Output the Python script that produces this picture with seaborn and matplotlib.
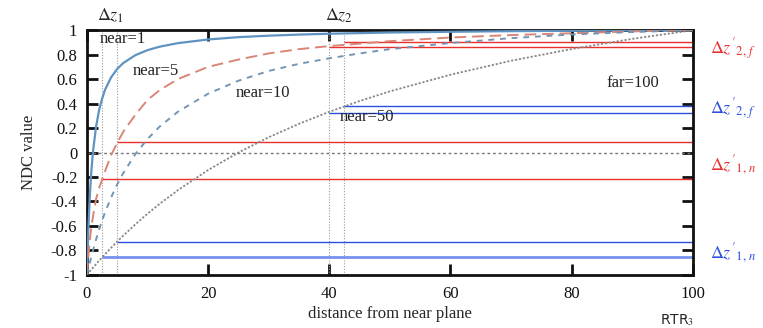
import matplotlib
matplotlib.use("Agg")
import matplotlib.pyplot as plt
import seaborn as sns
import pandas as pd

# ====== data ======
dist = [0, 0.25, 0.5, 0.75, 1, 1.5, 2, 2.5, 3, 4, 5, 6, 8, 10, 12, 15, 20, 25, 30,
        35, 40, 45, 50, 60, 70, 80, 90, 100]
near1 = [-1.0, -0.596, -0.327, -0.134, 0.010, 0.212, 0.347, 0.44, 0.515, 0.616, 0.684,
         0.732, 0.796, 0.837, 0.865, 0.894, 0.924, 0.943, 0.955, 0.964, 0.971, 0.976,
         0.981, 0.987, 0.992, 0.995, 0.998, 1.0]
near5 = [-1.0, -0.84, -0.70, -0.60, -0.52, -0.38, -0.29, -0.22, -0.15, -0.02, 0.08,
         0.17, 0.31, 0.43, 0.51, 0.60, 0.70, 0.76, 0.81, 0.845, 0.87, 0.89, 0.91,
         0.94, 0.96, 0.975, 0.99, 1.0]
near10 = [-1.0, -0.945, -0.894, -0.845, -0.798, -0.711, -0.630, -0.556, -0.487, -0.365,
          -0.259, -0.167, -0.012, 0.111, 0.212, 0.333, 0.481, 0.587, 0.667, 0.725,
          0.77, 0.81, 0.845, 0.895, 0.935, 0.965, 0.985, 1.0]
near50 = [-1.0, -0.985, -0.970, -0.955, -0.941, -0.912, -0.885, -0.857, -0.830, -0.778,
          -0.727, -0.679, -0.586, -0.500, -0.419, -0.308, -0.143, 0.0, 0.125, 0.235,
          0.333, 0.421, 0.500, 0.636, 0.750, 0.846, 0.929, 1.0]

curve_labels = ["near=1", "near=5", "near=10", "near=50"]
label_pos_x = [2.1, 7.6, 24.6, 41.7]
label_pos_y = [0.93, 0.67, 0.49, 0.29]

vlines_x = [2.5, 5.0, 40.0, 42.5]
red_lines = [(5.0, 0.09), (2.5, -0.216), (40.0, 0.863), (42.5, 0.904)]
blue_lines = [(5.0, -0.732), (40.0, 0.325), (42.5, 0.38)]
lightblue_lines = [(2.5, -0.85)]

right_labels = [r"$\Delta z'_{2,\,f}$", r"$\Delta z'_{2,\,f}$", r"$\Delta z'_{1,\,n}$", r"$\Delta z'_{1,\,n}$"]
right_y = [0.845, 0.35, -0.10, -0.82]
right_col = ["#e8302f", "#2a4fe0", "#e8302f", "#2a4fe0"]

# ====== style ======
sns.set_theme(style="ticks")
plt.rcParams["font.family"] = ["Liberation Serif", "DejaVu Serif"]
plt.rcParams["mathtext.fontset"] = "stix"

fig = plt.figure(figsize=(7.63, 3.28), dpi=100)
ax = fig.add_axes([0.114, 0.162, 0.794, 0.746])

df = pd.DataFrame({"d": dist, "near=1": near1, "near=5": near5,
                   "near=10": near10, "near=50": near50})

# helper lines first
for x in vlines_x:
    ax.axvline(x, color="#9a9a9a", lw=0.8, ls=(0, (1, 1.5)), zorder=1)
ax.axhline(0, color="#777777", lw=1.0, ls=(0, (2, 2)), zorder=1)
for x0, y in red_lines:
    ax.hlines(y, x0, 100, color="#e8302f", lw=1.0, zorder=2)
for x0, y in blue_lines:
    ax.hlines(y, x0, 100, color="#2a4fe0", lw=1.0, zorder=2)
for x0, y in lightblue_lines:
    ax.hlines(y, x0, 100, color="#7592f0", lw=2.0, zorder=2)

# curves
sns.lineplot(data=df, x="d", y="near=1", ax=ax, color="#5f93c2", lw=1.6,
             linestyle="-", zorder=3)
sns.lineplot(data=df, x="d", y="near=5", ax=ax, color="#d98676", lw=1.4,
             linestyle=(0, (6, 3)), zorder=3)
sns.lineplot(data=df, x="d", y="near=10", ax=ax, color="#7396b4", lw=1.4,
             linestyle=(0, (3, 3)), zorder=3)
sns.lineplot(data=df, x="d", y="near=50", ax=ax, color="#888888", lw=1.3,
             linestyle=(0, (1.2, 1)), zorder=3)

for lab, x, y in zip(curve_labels, label_pos_x, label_pos_y):
    ax.text(x, y, lab, fontsize=12, ha="left", va="center", color="#222222")
ax.text(85.8, 0.57, "far=100", fontsize=12, ha="left", va="center", color="#222222")

ax.text(1.6, 1.12, r"$\Delta z_1$", fontsize=13, ha="left", va="center", clip_on=False)
ax.text(39.3, 1.12, r"$\Delta z_2$", fontsize=13, ha="left", va="center", clip_on=False)

for lab, y, c in zip(right_labels, right_y, right_col):
    ax.text(102.8, y, lab, fontsize=13, color=c, ha="left", va="center", clip_on=False)

ax.text(97.4, -1.37, r"RTR$_3$", fontsize=10, family="DejaVu Sans", ha="center",
        va="center", clip_on=False)

# axes
ax.set_xlim(0, 100)
ax.set_ylim(-1, 1)
ax.set_xticks([0, 20, 40, 60, 80, 100])
ax.set_yticks([-1, -0.8, -0.6, -0.4, -0.2, 0, 0.2, 0.4, 0.6, 0.8, 1])
ax.set_yticklabels(["-1", "-0.8", "-0.6", "-0.4", "-0.2", "0", "0.2", "0.4", "0.6", "0.8", "1"])
ax.tick_params(direction="in", length=8, width=2, top=True, right=True,
               labelsize=12, colors="#111111")
ax.tick_params(axis="x", pad=8)
ax.tick_params(axis="y", pad=7)
for sp in ax.spines.values():
    sp.set_linewidth(2)
    sp.set_color("#111111")
ax.set_xlabel("distance from near plane", fontsize=12, labelpad=3)
ax.set_ylabel("NDC value", fontsize=12, labelpad=10)

plt.savefig("out.png", dpi=100)
plt.close()
